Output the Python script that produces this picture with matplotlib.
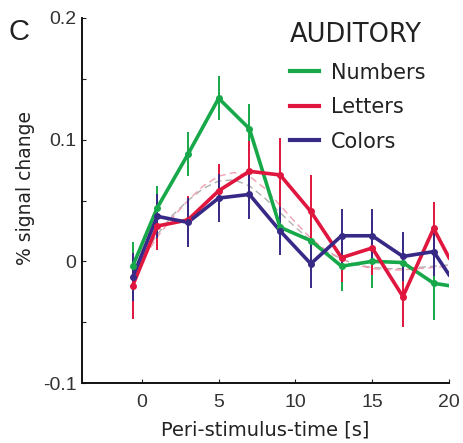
import matplotlib
matplotlib.use("Agg")
import matplotlib.pyplot as plt
from matplotlib.lines import Line2D

plt.rcParams['font.family'] = ['Liberation Sans', 'DejaVu Sans']

# Data
time = [-0.6, 1, 3, 5, 7, 9, 11, 13, 15, 17, 19, 20]
numbers = [-0.004, 0.044, 0.088, 0.134, 0.109, 0.028, 0.017, -0.004, 0.000, -0.001, -0.018, -0.020]
numbers_err = [0.020, 0.018, 0.018, 0.018, 0.020, 0.018, 0.020, 0.020, 0.022, 0.020, 0.030, 0.0]
letters = [-0.020, 0.029, 0.034, 0.058, 0.074, 0.071, 0.041, 0.003, 0.011, -0.029, 0.027, 0.003]
letters_err = [0.027, 0.020, 0.020, 0.022, 0.025, 0.030, 0.030, 0.020, 0.022, 0.025, 0.022, 0.0]
colors_ = [-0.013, 0.037, 0.032, 0.052, 0.055, 0.025, -0.002, 0.021, 0.021, 0.004, 0.008, -0.011]
colors_err = [0.020, 0.018, 0.020, 0.020, 0.020, 0.020, 0.020, 0.022, 0.022, 0.020, 0.020, 0.0]

# Dashed model fits (read approximately)
fit_t = [-0.6, 1, 2, 3, 4, 5, 6, 7, 8, 9, 10, 11, 12, 13, 14, 15, 16, 17, 18, 19, 20]
fit_grey = [-0.008, 0.022, 0.038, 0.050, 0.060, 0.066, 0.067, 0.062, 0.052, 0.040, 0.028, 0.017, 0.008, 0.002, -0.003, -0.005, -0.006, -0.006, -0.005, -0.004, -0.003]
fit_pink = [-0.012, 0.020, 0.036, 0.050, 0.062, 0.070, 0.073, 0.070, 0.060, 0.046, 0.032, 0.019, 0.009, 0.002, -0.003, -0.006, -0.007, -0.007, -0.006, -0.005, -0.004]

series_names = ['Numbers', 'Letters', 'Colors']
series_colors = ['#17a84a', '#e0163e', '#372a86']
legend_title = 'AUDITORY'
panel_label = 'C'

WIDE = ['DejaVu Sans']

fig = plt.figure(figsize=(4.63, 4.43), dpi=100)
ax = fig.add_axes([82/463, 60/443, (449-82)/463, (383-18)/443])

ax.plot(fit_t, fit_grey, ls=(0, (5, 3)), color='#b0b0b0', lw=1.0, zorder=1)
ax.plot(fit_t, fit_pink, ls=(0, (5, 3)), color='#f0a0b0', lw=1.0, zorder=1)

handles = []
for vals, errs, c, name in [(numbers, numbers_err, series_colors[0], series_names[0]),
                            (letters, letters_err, series_colors[1], series_names[1]),
                            (colors_, colors_err, series_colors[2], series_names[2])]:
    ax.errorbar(time[:-1], vals[:-1], yerr=errs[:-1], fmt='none', ecolor=c, elinewidth=1.4, capsize=0, zorder=2)
    ax.plot(time, vals, color=c, lw=2.6, zorder=3, solid_joinstyle='round')
    ax.plot(time[:-1], vals[:-1], 'o', color=c, ms=4, zorder=4)
    handles.append(Line2D([0], [0], color=c, lw=3))

ax.set_xlim(-3.9, 20)
ax.set_ylim(-0.1, 0.2)
ax.set_xticks([0, 5, 10, 15, 20])
ax.set_xticklabels(['0', '5', '10', '15', '20'])
ax.set_yticks([-0.1, 0, 0.1, 0.2])
ax.set_yticklabels(['-0.1', '0', '0.1', '0.2'])
ax.set_yticks([-0.05, 0.05, 0.15], minor=True)
ax.tick_params(axis='both', which='both', direction='in', length=3, width=0.8, labelsize=14, colors='#222222', labelcolor='#333333')
ax.tick_params(axis='x', pad=8)
ax.tick_params(axis='y', pad=4)
for s in ['top', 'right']:
    ax.spines[s].set_visible(False)
for s in ['left', 'bottom']:
    ax.spines[s].set_linewidth(1.4)
    ax.spines[s].set_color('#111111')

ax.set_xlabel('Peri-stimulus-time [s]', fontsize=14, color='#222222', labelpad=7, family=WIDE)
ax.set_ylabel('% signal change', fontsize=13.5, color='#222222', family=WIDE)
ax.yaxis.set_label_coords(-0.128, 0.535)

leg = fig.legend(handles, series_names, title=legend_title, loc='upper left',
                 bbox_to_anchor=(290/463, 1 - 22/443), frameon=False,
                 prop={'family': WIDE, 'size': 15},
                 title_fontproperties={'family': WIDE, 'size': 18.5},
                 handlelength=1.4, handletextpad=0.55,
                 labelspacing=0.7, alignment='left', borderaxespad=0, borderpad=0)
for t in leg.get_texts():
    t.set_color('#222222')
leg.get_title().set_color('#222222')

fig.text(9/463, 1 - 40/443, panel_label, fontsize=21, color='#222222', va='baseline')

fig.savefig('out.png', dpi=100)
